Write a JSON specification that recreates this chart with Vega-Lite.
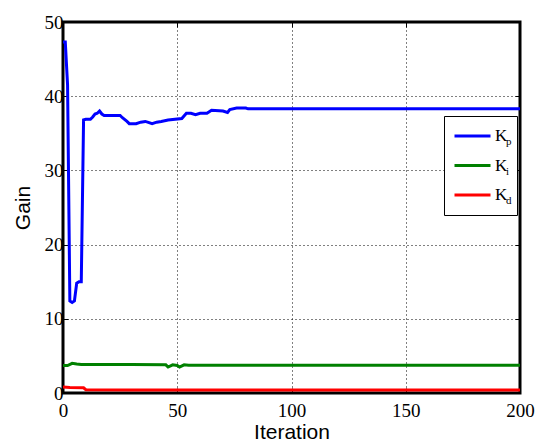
{
  "$schema": "https://vega.github.io/schema/vega-lite/v6.json",
  "width": 457,
  "height": 371,
  "autosize": "none",
  "padding": {"left": 63, "top": 22, "right": 30, "bottom": 55},
  "background": "white",
  "config": {
    "view": {"stroke": "black", "strokeWidth": 3},
    "axis": {
      "domain": false,
      "tickColor": "black",
      "tickSize": -5,
      "tickWidth": 1,
      "labelFont": "Liberation Serif",
      "labelFontSize": 19,
      "labelColor": "black",
      "titleFont": "Liberation Sans",
      "titleFontSize": 21,
      "titleFontWeight": "normal",
      "titleColor": "black",
      "gridColor": "black",
      "gridDash": [1, 3],
      "gridOpacity": 1,
      "gridWidth": 1
    }
  },
  "data": {
    "values": [
      {"iter": 0, "gain": 47.3, "series": "Kp", "sub": "p"},
      {"iter": 1, "gain": 47.3, "series": "Kp", "sub": "p"},
      {"iter": 2, "gain": 41.5, "series": "Kp", "sub": "p"},
      {"iter": 3, "gain": 12.4, "series": "Kp", "sub": "p"},
      {"iter": 4, "gain": 12.2, "series": "Kp", "sub": "p"},
      {"iter": 5, "gain": 12.4, "series": "Kp", "sub": "p"},
      {"iter": 6, "gain": 14.8, "series": "Kp", "sub": "p"},
      {"iter": 7, "gain": 15.0, "series": "Kp", "sub": "p"},
      {"iter": 8, "gain": 15.0, "series": "Kp", "sub": "p"},
      {"iter": 9, "gain": 36.8, "series": "Kp", "sub": "p"},
      {"iter": 10, "gain": 36.9, "series": "Kp", "sub": "p"},
      {"iter": 12, "gain": 36.9, "series": "Kp", "sub": "p"},
      {"iter": 13, "gain": 37.2, "series": "Kp", "sub": "p"},
      {"iter": 14, "gain": 37.6, "series": "Kp", "sub": "p"},
      {"iter": 15, "gain": 37.7, "series": "Kp", "sub": "p"},
      {"iter": 16, "gain": 38.0, "series": "Kp", "sub": "p"},
      {"iter": 17, "gain": 37.6, "series": "Kp", "sub": "p"},
      {"iter": 18, "gain": 37.4, "series": "Kp", "sub": "p"},
      {"iter": 25, "gain": 37.4, "series": "Kp", "sub": "p"},
      {"iter": 26, "gain": 37.1, "series": "Kp", "sub": "p"},
      {"iter": 28, "gain": 36.6, "series": "Kp", "sub": "p"},
      {"iter": 29, "gain": 36.3, "series": "Kp", "sub": "p"},
      {"iter": 32, "gain": 36.3, "series": "Kp", "sub": "p"},
      {"iter": 34, "gain": 36.5, "series": "Kp", "sub": "p"},
      {"iter": 36, "gain": 36.6, "series": "Kp", "sub": "p"},
      {"iter": 37, "gain": 36.5, "series": "Kp", "sub": "p"},
      {"iter": 39, "gain": 36.3, "series": "Kp", "sub": "p"},
      {"iter": 41, "gain": 36.5, "series": "Kp", "sub": "p"},
      {"iter": 43, "gain": 36.6, "series": "Kp", "sub": "p"},
      {"iter": 46, "gain": 36.8, "series": "Kp", "sub": "p"},
      {"iter": 52, "gain": 37.0, "series": "Kp", "sub": "p"},
      {"iter": 54, "gain": 37.7, "series": "Kp", "sub": "p"},
      {"iter": 56, "gain": 37.7, "series": "Kp", "sub": "p"},
      {"iter": 58, "gain": 37.5, "series": "Kp", "sub": "p"},
      {"iter": 60, "gain": 37.7, "series": "Kp", "sub": "p"},
      {"iter": 63, "gain": 37.7, "series": "Kp", "sub": "p"},
      {"iter": 65, "gain": 38.1, "series": "Kp", "sub": "p"},
      {"iter": 70, "gain": 38.0, "series": "Kp", "sub": "p"},
      {"iter": 72, "gain": 37.8, "series": "Kp", "sub": "p"},
      {"iter": 73, "gain": 38.2, "series": "Kp", "sub": "p"},
      {"iter": 76, "gain": 38.4, "series": "Kp", "sub": "p"},
      {"iter": 80, "gain": 38.4, "series": "Kp", "sub": "p"},
      {"iter": 81, "gain": 38.3, "series": "Kp", "sub": "p"},
      {"iter": 200, "gain": 38.3, "series": "Kp", "sub": "p"},
      {"iter": 0, "gain": 3.7, "series": "Ki", "sub": "i"},
      {"iter": 2, "gain": 3.7, "series": "Ki", "sub": "i"},
      {"iter": 4, "gain": 4.0, "series": "Ki", "sub": "i"},
      {"iter": 6, "gain": 3.9, "series": "Ki", "sub": "i"},
      {"iter": 8, "gain": 3.85, "series": "Ki", "sub": "i"},
      {"iter": 30, "gain": 3.85, "series": "Ki", "sub": "i"},
      {"iter": 45, "gain": 3.8, "series": "Ki", "sub": "i"},
      {"iter": 46, "gain": 3.5, "series": "Ki", "sub": "i"},
      {"iter": 48, "gain": 3.8, "series": "Ki", "sub": "i"},
      {"iter": 50, "gain": 3.7, "series": "Ki", "sub": "i"},
      {"iter": 51, "gain": 3.5, "series": "Ki", "sub": "i"},
      {"iter": 53, "gain": 3.8, "series": "Ki", "sub": "i"},
      {"iter": 55, "gain": 3.75, "series": "Ki", "sub": "i"},
      {"iter": 200, "gain": 3.75, "series": "Ki", "sub": "i"},
      {"iter": 0, "gain": 0.8, "series": "Kd", "sub": "d"},
      {"iter": 3, "gain": 0.75, "series": "Kd", "sub": "d"},
      {"iter": 9, "gain": 0.7, "series": "Kd", "sub": "d"},
      {"iter": 10, "gain": 0.45, "series": "Kd", "sub": "d"},
      {"iter": 30, "gain": 0.4, "series": "Kd", "sub": "d"},
      {"iter": 200, "gain": 0.4, "series": "Kd", "sub": "d"}
    ]
  },
  "layer": [
    {
      "mark": {"type": "line", "strokeWidth": 3, "clip": true},
      "encoding": {
        "x": {
          "field": "iter", "type": "quantitative",
          "scale": {"domain": [0, 200], "nice": false},
          "axis": {"values": [0, 50, 100, 150, 200], "title": "Iteration", "labelPadding": 13, "titlePadding": 1, "grid": true, "labelFlush": false,
                   "labelFont": "Liberation Serif", "labelFontSize": 19, "titleFont": "Liberation Sans", "titleFontSize": 21}
        },
        "y": {
          "field": "gain", "type": "quantitative",
          "scale": {"domain": [0, 50], "nice": false},
          "axis": {"values": [0, 10, 20, 30, 40, 50], "title": "Gain", "labelPadding": 5, "titlePadding": 11, "grid": true, "labelFlush": false,
                   "labelFont": "Liberation Serif", "labelFontSize": 19, "titleFont": "Liberation Sans", "titleFontSize": 21}
        },
        "color": {
          "field": "series", "type": "nominal",
          "scale": {"domain": ["Kp", "Ki", "Kd"], "range": ["#0000FF", "#008000", "#FF0000"]},
          "legend": {
            "orient": "none", "legendX": 381, "legendY": 94,
            "title": null, "labelExpr": "'K'",
            "symbolType": "stroke", "symbolSize": 1296, "symbolStrokeWidth": 3,
            "labelFont": "Liberation Serif", "labelFontSize": 17, "labelColor": "black", "labelOffset": 3,
            "strokeColor": "black", "fillColor": "white", "padding": 9, "rowPadding": 7.5, "clipHeight": 22
          }
        },
        "opacity": {
          "field": "sub", "type": "nominal",
          "scale": {"domain": ["p", "i", "d"], "range": [1, 1, 1]},
          "legend": {
            "orient": "none", "legendX": 381, "legendY": 100,
            "title": null,
            "symbolType": "stroke", "symbolSize": 1296, "symbolStrokeWidth": 0, "symbolStrokeColor": "transparent", "symbolOpacity": 0,
            "labelFont": "Liberation Serif", "labelFontSize": 11, "labelColor": "black", "labelOffset": 17,
            "padding": 9, "rowPadding": 7.5, "clipHeight": 22
          }
        }
      }
    },
    {
      "mark": {"type": "point", "opacity": 0},
      "encoding": {
        "x": {
          "field": "iter", "type": "quantitative",
          "scale": {"domain": [0, 200], "nice": false},
          "axis": {"orient": "top", "values": [0, 50, 100, 150, 200], "labels": false, "title": null, "grid": false}
        },
        "y": {
          "field": "gain", "type": "quantitative",
          "scale": {"domain": [0, 50], "nice": false},
          "axis": {"orient": "right", "values": [0, 10, 20, 30, 40, 50], "labels": false, "title": null, "grid": false}
        }
      }
    }
  ],
  "resolve": {"axis": {"x": "independent", "y": "independent"}}
}
